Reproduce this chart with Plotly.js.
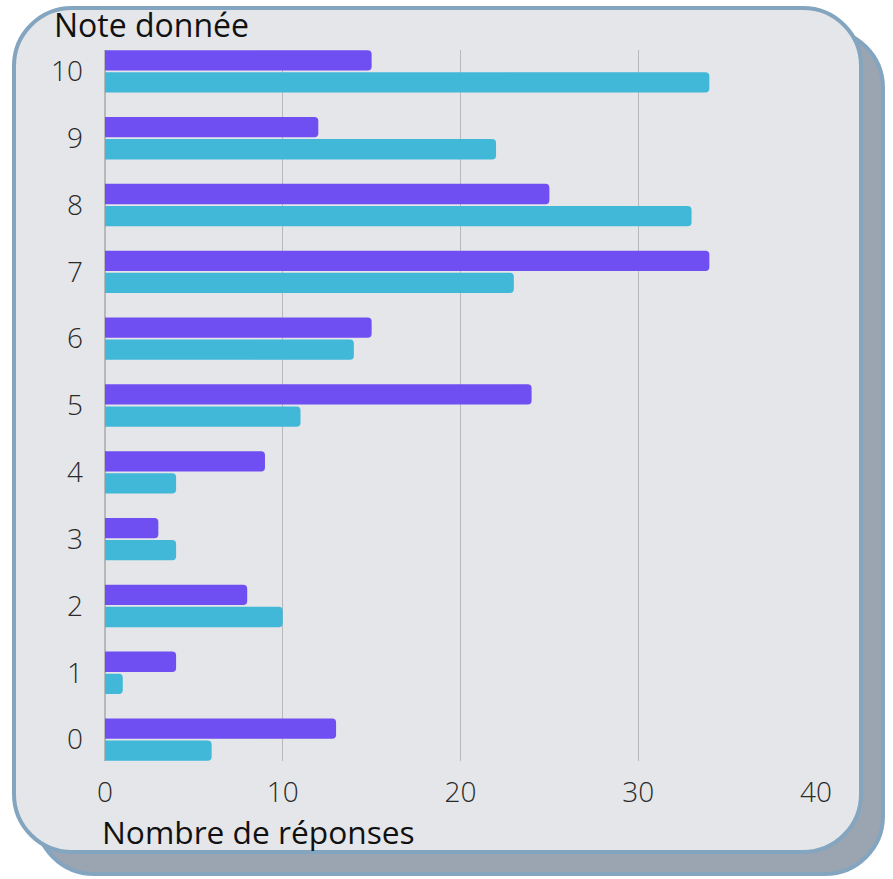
<!DOCTYPE html>
<html>
<head>
<meta charset="utf-8">
<script src="https://cdn.plot.ly/plotly-3.0.1.min.js"></script>
<style>
  html, body { margin: 0; padding: 0; background: #ffffff; width: 893px; height: 879px; overflow: hidden; }
  #shadow { position: absolute; left: 34px; top: 28px; width: 843px; height: 840px; background: #9aa5b1; border: 4px solid #84a5bf; border-radius: 60px; box-sizing: content-box; }
  #card { position: absolute; left: 12px; top: 6px; width: 843px; height: 840px; background: #e5e6e9; border: 4px solid #84a5bf; border-radius: 60px; }
  #chart { position: absolute; left: 0; top: 0; width: 893px; height: 879px; }
</style>
</head>
<body>
<div id="shadow"></div>
<div id="card"></div>
<div id="chart"></div>
<script>
const notes = ['0', '1', '2', '3', '4', '5', '6', '7', '8', '9', '10'];
const serieViolette = [13, 4, 8, 3, 9, 24, 15, 34, 25, 12, 15];
const serieCyan = [6, 1, 10, 4, 4, 11, 14, 23, 33, 22, 34];
const xTicks = [0, 10, 20, 30, 40];
const titreY = 'Note donnée';
const titreX = 'Nombre de réponses';

const traces = [
  {
    type: 'bar', orientation: 'h', name: 'cyan',
    y: notes, x: serieCyan,
    marker: { color: '#42b8d8', cornerradius: 4 },
    hoverinfo: 'x+y'
  },
  {
    type: 'bar', orientation: 'h', name: 'violet',
    y: notes, x: serieViolette,
    marker: { color: '#6f4ff2', cornerradius: 4 },
    hoverinfo: 'x+y'
  }
];

const layout = {
  width: 893, height: 879,
  paper_bgcolor: 'rgba(0,0,0,0)',
  plot_bgcolor: 'rgba(0,0,0,0)',
  margin: { l: 105, r: 77, t: 50, b: 118 },
  barmode: 'group',
  bargap: 0.34,
  bargroupgap: 0.08,
  showlegend: false,
  font: { family: 'Open Sans, sans-serif', color: '#333333' },
  xaxis: {
    range: [0, 40],
    tickvals: xTicks,
    ticktext: xTicks.map(String),
    showgrid: true, gridcolor: '#b8b8b8', gridwidth: 1,
    zeroline: true, zerolinecolor: '#b8b8b8', zerolinewidth: 1.5,
    showline: false, ticks: '',
    ticklabelstandoff: 12,
    tickfont: { family: 'Open Sans, sans-serif', size: 28, color: '#2a2a2a', weight: 300 },
    fixedrange: true
  },
  yaxis: {
    type: 'category',
    categoryorder: 'array', categoryarray: notes,
    range: [-0.32, 10.32],
    showgrid: false, zeroline: false, showline: false, ticks: '',
    ticklabelstandoff: 21,
    tickfont: { family: 'Open Sans, sans-serif', size: 28, color: '#2a2a2a', weight: 300 },
    fixedrange: true
  },
  annotations: [
    {
      text: titreY, xref: 'paper', yref: 'paper',
      x: -0.0745, y: 1.0, xanchor: 'left', yanchor: 'bottom', yshift: 2,
      showarrow: false,
      font: { family: 'Open Sans, sans-serif', size: 32, color: '#111111' }
    },
    {
      text: titreX, xref: 'paper', yref: 'paper',
      x: -0.007, y: 0, xanchor: 'left', yanchor: 'top', yshift: -47,
      showarrow: false,
      font: { family: 'Open Sans, sans-serif', size: 31.7, color: '#111111' }
    }
  ]
};

Plotly.newPlot('chart', traces, layout, { displayModeBar: false, staticPlot: true });
</script>
</body>
</html>
